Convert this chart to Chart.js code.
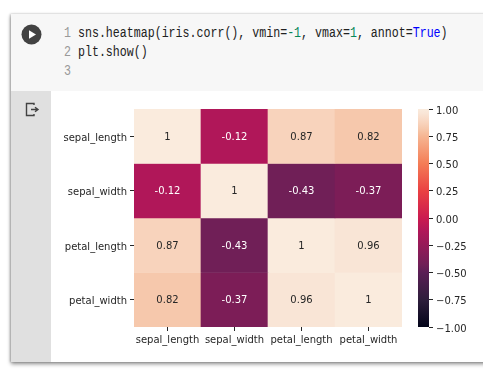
<!DOCTYPE html>
<html>
<head>
<meta charset="utf-8">
<script src="https://cdn.jsdelivr.net/npm/chart.js@4"></script>
<style>
    html, body { margin: 0; width: 483px; height: 378px; background: #fff; overflow: hidden; }
    #card { position: absolute; left: 11px; top: 14px; width: 490px; height: 348px; background: #fff;
        box-shadow: 0 2px 4px rgba(0,0,0,.45), -1px 0 2px rgba(0,0,0,.2); }
    #head { position: absolute; left: 0; top: 0; width: 100%; height: 77px; background: #f7f7f7; }
    #gutter { position: absolute; left: 0; top: 77px; width: 40px; height: 271px; background: #e0e0e0; }
    #run { position: absolute; left: 10px; top: 10px; }
    #icon { position: absolute; left: 14px; top: 88px; }
    .code { position: absolute; left: 53px; font: 15.4px "Liberation Mono", monospace; color: #212121;
        transform: scaleX(.755); transform-origin: 0 0; white-space: pre; line-height: 19px; }
    .code i { font-style: normal; color: #999; }
    .code b { font-weight: normal; color: #098658; }
    .code u { text-decoration: none; color: #0000ff; }
    canvas { position: absolute; }
</style>
</head>
<body>
<div id="card">
    <div id="head">
        <svg id="run" width="21" height="21" viewBox="0 0 21 21">
            <circle cx="10.5" cy="10.5" r="10" fill="#424242"/>
            <path d="M8 6.2 L15 10.5 L8 14.8 Z" fill="#fff"/>
        </svg>
        <div class="code" style="top:10px"><i>1</i> sns.heatmap(iris.corr(), vmin=<b>-1</b>, vmax=<b>1</b>, annot=<u>True</u>)</div>
        <div class="code" style="top:29px"><i>2</i> plt.show()</div>
        <div class="code" style="top:48px"><i>3</i></div>
    </div>
    <div id="gutter"></div>
    <svg id="icon" width="16" height="16" viewBox="0 0 16 16">
        <path d="M9 3 V1.5 H1.5 V13.5 H9 V12" fill="none" stroke="#424242" stroke-width="1.4"/>
        <path d="M6 7.5 H12 M10 5.2 L13 7.5 L10 9.8" fill="none" stroke="#424242" stroke-width="1.4"/>
    </svg>
</div>
<canvas id="heat" width="431" height="270" style="left:52px;top:92px"></canvas>
<canvas id="bar" width="83" height="270" style="left:400px;top:92px"></canvas>
<script>
const categorias = ["sepal_length", "sepal_width", "petal_length", "petal_width"];
const fila1 = [1, -0.12, 0.87, 0.82];
const fila2 = [-0.12, 1, -0.43, -0.37];
const fila3 = [0.87, -0.43, 1, 0.96];
const fila4 = [0.82, -0.37, 0.96, 1];
const filas = [fila1, fila2, fila3, fila4];
const ticksBarra = [-1, -0.75, -0.5, -0.25, 0, 0.25, 0.5, 0.75, 1];

const stopsRocket = [
    [0, 3, 5, 26], [0.125, 46, 30, 60], [0.25, 90, 30, 85], [0.285, 112, 31, 87],
    [0.44, 176, 23, 89], [0.5, 203, 27, 80], [0.625, 234, 65, 66], [0.75, 244, 125, 86],
    [0.875, 246, 181, 146], [0.91, 246, 200, 172], [0.935, 248, 211, 188],
    [0.98, 249, 229, 214], [1, 250, 235, 221],
];

function colorRocket(v) {
    const t = (v + 1) / 2;
    let i = 0;
    while (i < stopsRocket.length - 2 && t > stopsRocket[i + 1][0]) i++;
    const a = stopsRocket[i];
    const b = stopsRocket[i + 1];
    const k = (t - a[0]) / (b[0] - a[0]);
    return `rgb(${[1, 2, 3].map((c) => Math.round(a[c] + (b[c] - a[c]) * k)).join(",")})`;
}

const fuente = { family: "DejaVu Sans", size: 10 };
const colorTexto = "#262626";

const anotaciones = {
    id: "anotaciones",
    afterDatasetsDraw(chart) {
        const { ctx, scales } = chart;
        ctx.save();
        ctx.font = `${fuente.size}px ${fuente.family}`;
        ctx.textAlign = "center";
        ctx.textBaseline = "middle";
        filas.forEach((fila, f) => {
            fila.forEach((v, c) => {
                ctx.fillStyle = v < 0 ? "#fff" : colorTexto;
                ctx.fillText(String(v), scales.x.getPixelForValue(c), scales.y.getPixelForValue(f + 0.5) + 1);
            });
        });
        ctx.restore();
    },
};

const chartHeat = new Chart(document.getElementById("heat"), {
    type: "bar",
    plugins: [anotaciones],
    data: {
        labels: categorias,
        datasets: filas.map((fila, f) => ({
            data: fila.map(() => [f, f + 1]),
            backgroundColor: fila.map(colorRocket),
            barPercentage: 1,
            categoryPercentage: 1,
            grouped: false,
        })),
    },
    options: {
        responsive: false,
        animation: false,
        layout: { padding: { top: 17, right: 81, bottom: 15, left: 0 } },
        plugins: { legend: { display: false }, tooltip: { enabled: false } },
        scales: {
            x: {
                grid: { offset: false, drawOnChartArea: false, tickLength: 4, color: colorTexto },
                border: { display: false },
                ticks: { color: colorTexto, font: fuente, maxRotation: 0, padding: 3 },
                afterFit: (s) => { s.height = 20; },
            },
            y: {
                type: "linear",
                min: 0,
                max: 4,
                reverse: true,
                afterBuildTicks: (s) => { s.ticks = categorias.map((c, i) => ({ value: i + 0.5 })); },
                grid: { drawOnChartArea: false, tickLength: 4, color: colorTexto },
                border: { display: false },
                ticks: {
                    color: colorTexto,
                    font: fuente,
                    padding: 3,
                    labelOffset: 2,
                    autoSkip: false,
                    callback: (v) => categorias[v - 0.5],
                },
                afterFit: (s) => { s.width = 82; },
            },
        },
    },
});

const chartBarra = new Chart(document.getElementById("bar"), {
    type: "bar",
    data: {
        labels: [""],
        datasets: [{
            data: [[-1, 1]],
            barPercentage: 1,
            categoryPercentage: 1,
            backgroundColor: (c) => {
                const area = c.chart.chartArea;
                if (!area) return "#000";
                const g = c.chart.ctx.createLinearGradient(0, area.bottom, 0, area.top);
                stopsRocket.forEach((s) => g.addColorStop(s[0], `rgb(${s[1]},${s[2]},${s[3]})`));
                return g;
            },
        }],
    },
    options: {
        responsive: false,
        animation: false,
        layout: { padding: { top: 17, right: 0, bottom: 35, left: 18 } },
        plugins: { legend: { display: false }, tooltip: { enabled: false } },
        scales: {
            x: { display: false },
            y: {
                position: "right",
                min: -1,
                max: 1,
                afterBuildTicks: (s) => { s.ticks = ticksBarra.map((v) => ({ value: v })); },
                grid: { drawOnChartArea: false, tickLength: 4, color: colorTexto },
                border: { display: false },
                ticks: {
                    color: colorTexto,
                    font: fuente,
                    padding: 3,
                    labelOffset: 2,
                    autoSkip: false,
                    callback: (v) => v.toFixed(2).replace("-", "\u2212"),
                },
                afterFit: (s) => { s.width = 54; },
            },
        },
    },
});
</script>
</body>
</html>
